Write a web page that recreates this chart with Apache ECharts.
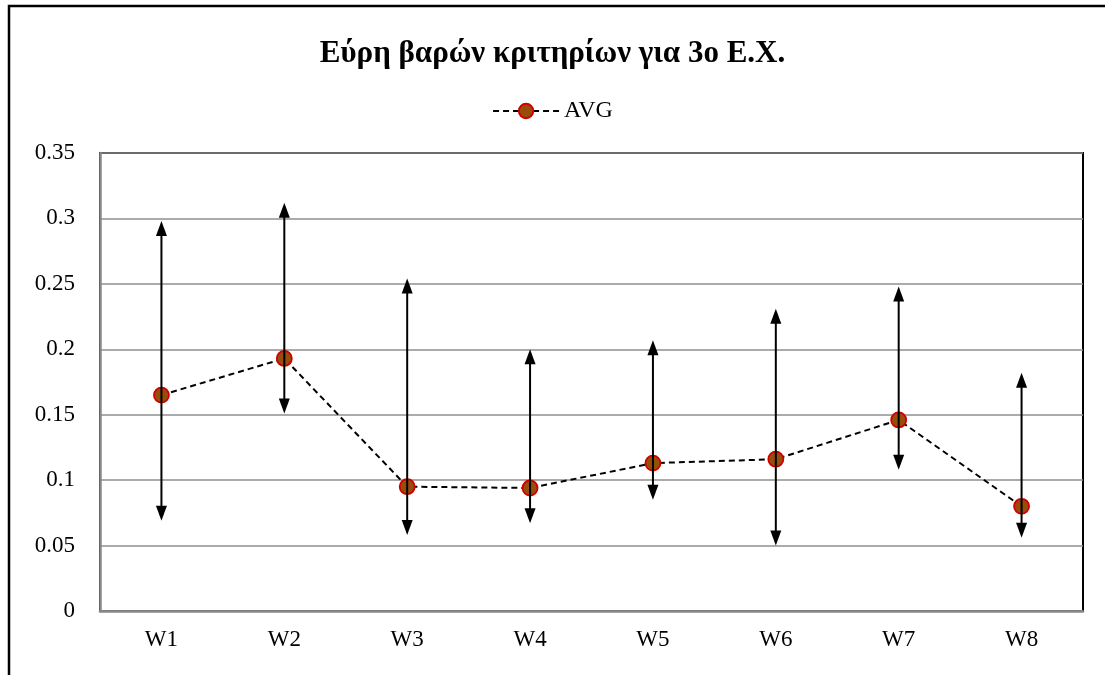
<!DOCTYPE html>
<html>
<head>
    <meta charset="utf-8">
    <script src="https://cdn.jsdelivr.net/npm/echarts@6/dist/echarts.min.js"></script>
    <style>
        html, body { margin: 0; padding: 0; background: #fff; }
        #main { width: 1105px; height: 675px; }
    </style>
</head>
<body>
<div id="main"></div>
<script>
    var categories = ['W1', 'W2', 'W3', 'W4', 'W5', 'W6', 'W7', 'W8'];
    var avgValues = [0.165, 0.193, 0.095, 0.094, 0.113, 0.116, 0.146, 0.080];
    var maxValues = [0.298, 0.312, 0.254, 0.200, 0.207, 0.231, 0.248, 0.182];
    var minValues = [0.069, 0.151, 0.058, 0.067, 0.085, 0.050, 0.108, 0.056];

    var font = '"Liberation Serif", "DejaVu Serif", serif';

    // min / max pairs for the arrows
    var rangeData = [];
    for (var i = 0; i < categories.length; i++) {
        rangeData.push([i, minValues[i], maxValues[i]]);
    }

    function renderArrow(params, api) {
        var lo = api.coord([api.value(0), api.value(1)]);
        var hi = api.coord([api.value(0), api.value(2)]);
        var x = lo[0];
        var hw = 5.5, hl = 15;
        return {
            type: 'group',
            children: [
                {
                    type: 'line',
                    shape: { x1: x, y1: hi[1] + hl - 2, x2: x, y2: lo[1] - hl + 2 },
                    style: { stroke: '#000', lineWidth: 2 }
                },
                {
                    type: 'polygon',
                    shape: { points: [[x, hi[1]], [x - hw, hi[1] + hl], [x + hw, hi[1] + hl]] },
                    style: { fill: '#000' }
                },
                {
                    type: 'polygon',
                    shape: { points: [[x, lo[1]], [x - hw, lo[1] - hl], [x + hw, lo[1] - hl]] },
                    style: { fill: '#000' }
                }
            ]
        };
    }

    var myChart = echarts.init(document.getElementById('main'));
    var option = {
        backgroundColor: '#fff',
        animation: false,
        title: {
            text: 'Εύρη βαρών κριτηρίων για 3ο Ε.Χ.',
            left: 'center',
            top: 33,
            textStyle: { fontFamily: font, fontWeight: 'bold', fontSize: 31, color: '#000' }
        },
        legend: {
            data: ['AVG'],
            top: 94,
            left: 'center',
            itemWidth: 66,
            itemHeight: 18,
            itemGap: 6,
            textStyle: { fontFamily: font, fontSize: 24, color: '#000' }
        },
        grid: {
            left: 100,
            right: 22,
            top: 153,
            bottom: 64,
            show: true,
            borderColor: '#000',
            borderWidth: 2
        },
        xAxis: {
            type: 'category',
            data: categories,
            axisLine: { lineStyle: { color: '#888', width: 2.5 } },
            axisTick: { show: false },
            axisLabel: { fontFamily: font, fontSize: 23, color: '#000', margin: 17 }
        },
        yAxis: {
            type: 'value',
            min: 0,
            max: 0.35,
            interval: 0.05,
            axisLine: { show: true, lineStyle: { color: '#888', width: 2.5 } },
            axisTick: { show: false },
            splitLine: { lineStyle: { color: '#8f8f8f', width: 1.5 } },
            axisLabel: { fontFamily: font, fontSize: 23, color: '#000', margin: 25 }
        },
        graphic: [
            {
                type: 'polyline',
                shape: { points: [[9, 700], [9, 6], [1110, 6]] },
                style: { stroke: '#000', lineWidth: 2.5, fill: null }
            }
        ],
        series: [
            {
                name: 'AVG',
                type: 'line',
                data: avgValues,
                symbol: 'circle',
                symbolSize: 15,
                lineStyle: { color: '#000', width: 2, type: [6, 4] },
                itemStyle: { color: '#994d0d', borderColor: '#d00000', borderWidth: 1.8 },
                z: 2
            },
            {
                name: 'range',
                type: 'custom',
                data: rangeData,
                renderItem: renderArrow,
                encode: { x: 0, y: [1, 2] },
                z: 5,
                silent: true
            }
        ]
    };
    myChart.setOption(option);
</script>
</body>
</html>
